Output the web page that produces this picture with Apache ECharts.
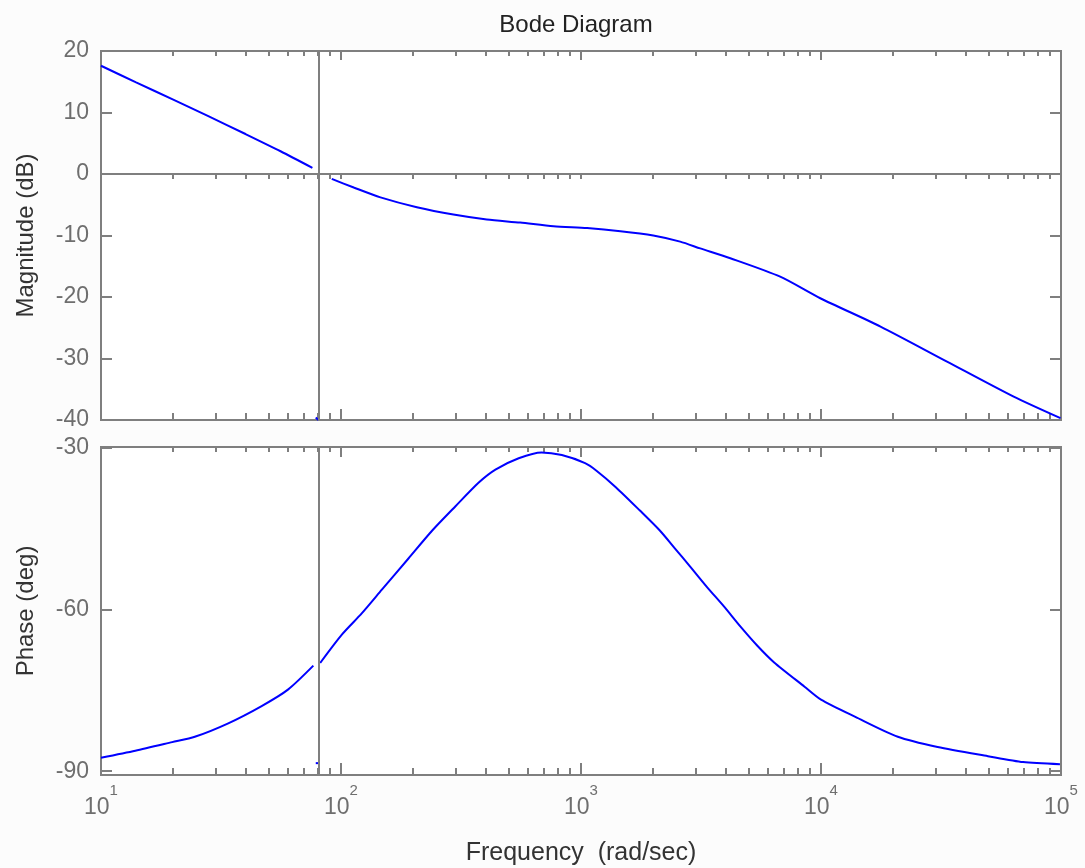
<!DOCTYPE html>
<html>
<head>
<meta charset="utf-8">
<title>Bode Diagram</title>
<script src="https://cdn.jsdelivr.net/npm/echarts@6/dist/echarts.min.js"></script>
<style>
  html, body { margin: 0; padding: 0; background: #fcfcfc; }
  #chart { width: 1085px; height: 868px; }
</style>
</head>
<body>
<div id="chart"></div>
<script>
// magnitude, before the crossover line
const magFreqLow = [10, 14, 20, 28, 40, 56, 76];
const magDbLow = [17.6, 14.9, 12.1, 9.4, 6.5, 3.7, 1.0];
// magnitude, after the crossover line
const magFreqHigh = [91.5, 113, 146, 207, 294, 405, 558, 768, 1060, 1460, 2000, 2590, 3140, 4190, 6760, 9930, 17700, 33500, 63500, 99500];
const magDbHigh = [-0.8, -2.2, -3.8, -5.4, -6.6, -7.4, -7.9, -8.5, -8.8, -9.3, -10.0, -11.0, -12.1, -13.7, -16.7, -20.2, -24.8, -30.5, -36.2, -39.7];

// phase
const phaseFreqLow = [10, 13.9, 19.8, 24.6, 33.9, 46.7, 60.3, 76.7];
const phaseDegLow = [-87.5, -86.2, -84.6, -83.6, -81.1, -77.9, -74.8, -70.4];
const phaseFreqHigh = [81.9, 101, 122, 148, 191, 239, 300, 375, 440, 550, 685, 832, 1040, 1160, 1400, 1760, 2130, 2470, 2850, 3350, 3940, 4630, 5430, 6380, 8540, 10000, 13900, 20900, 30600, 49600, 69500, 99000];
const phaseDegHigh = [-69.9, -64.6, -60.7, -56.3, -50.5, -45.4, -40.8, -36.4, -34.0, -31.9, -30.8, -31.3, -32.8, -34.2, -37.3, -41.6, -45.3, -48.7, -52.0, -55.8, -59.4, -63.2, -66.7, -69.8, -74.3, -76.7, -79.9, -83.6, -85.5, -87.2, -88.3, -88.7];

// little blue stubs at the foot of the crossover line
const stubFreq = [78.5, 80.5];
const magStub = [-39.6, -40];
const phaseStub = [-88.5, -88.5];

const crossFreq = 80.5;

// ticks
const majorFreq = [10, 100, 1000, 10000, 100000];
const minorMult = [2, 3, 4, 5, 6, 7, 8, 9];
const magTicks = [-40, -30, -20, -10, 0, 10, 20];
const phaseTicks = [-90, -60, -30];

const minorFreq = [];
majorFreq.slice(0, -1).forEach(d => minorMult.forEach(m => minorFreq.push(d * m)));
const allFreq = majorFreq.concat(minorFreq);

const pairs = (xs, ys) => xs.map((x, i) => [x, ys[i]]);

const gray = '#7f7f7f';
const labelGray = '#6e6e6e';
const font = 'Liberation Sans, Arial, sans-serif';

function xAx(gridIndex, position, values, len, extra) {
  return Object.assign({
    type: 'log', logBase: 10, gridIndex: gridIndex, position: position,
    min: 10, max: 100000,
    axisLine: { show: false, onZero: false },
    axisTick: { show: true, inside: true, length: len, customValues: values,
      lineStyle: { color: gray, width: 2 } },
    axisLabel: { show: false },
    splitLine: { show: false }
  }, extra || {});
}

function yAx(gridIndex, position, min, max, values, len, extra) {
  return Object.assign({
    type: 'value', gridIndex: gridIndex, position: position,
    min: min, max: max,
    axisLine: { show: false, onZero: false },
    axisTick: { show: true, inside: true, length: len, customValues: values,
      lineStyle: { color: gray, width: 2 } },
    axisLabel: { show: false },
    splitLine: { show: false }
  }, extra || {});
}

const yLabel = (values) => ({
  show: true, customValues: values, margin: 12,
  color: labelGray, fontSize: 23, fontFamily: font
});

const curve = (xi, yi, xs, ys) => ({
  type: 'line', xAxisIndex: xi, yAxisIndex: yi,
  data: pairs(xs, ys),
  showSymbol: false, smooth: 0.25,
  lineStyle: { color: '#0000ff', width: 2 }
});

const crossLine = {
  silent: true, symbol: 'none', label: { show: false },
  lineStyle: { color: gray, width: 2, type: 'solid' },
  data: [{ xAxis: crossFreq }]
};

const chart = echarts.init(document.getElementById('chart'));

const option = {
  backgroundColor: '#fcfcfc',
  animation: false,
  title: {
    text: 'Bode Diagram',
    left: 571, textAlign: 'center', top: 8,
    textStyle: { fontSize: 24, fontWeight: 'normal', color: '#222', fontFamily: font }
  },
  grid: [
    { left: 101, top: 51, width: 960, height: 369, show: true,
      backgroundColor: '#fff', borderColor: gray, borderWidth: 2 },
    { left: 101, top: 447, width: 960, height: 328, show: true,
      backgroundColor: '#fff', borderColor: gray, borderWidth: 2 }
  ],
  xAxis: [
    // magnitude panel
    xAx(0, 'bottom', majorFreq, 11),
    xAx(0, 'bottom', minorFreq, 7),
    xAx(0, 'top', majorFreq, 9),
    xAx(0, 'top', minorFreq, 5),
    xAx(0, 'top', allFreq, 5, {
      axisLine: { show: true, onZero: true, lineStyle: { color: gray, width: 2 } }
    }),
    // phase panel
    xAx(1, 'bottom', majorFreq, 12, {
      axisLabel: {
        show: true, customValues: majorFreq, margin: 8,
        formatter: v => '{b|10}{s|' + Math.round(Math.log10(v)) + '}',
        rich: {
          b: { fontSize: 23, color: labelGray, fontFamily: font, lineHeight: 36, verticalAlign: 'bottom' },
          s: { fontSize: 15, color: labelGray, fontFamily: font, verticalAlign: 'top' }
        }
      },
      name: 'Frequency  (rad/sec)', nameLocation: 'middle', nameGap: 66,
      nameTextStyle: { fontSize: 25, color: '#333', fontFamily: font }
    }),
    xAx(1, 'bottom', minorFreq, 7),
    xAx(1, 'top', majorFreq, 10),
    xAx(1, 'top', minorFreq, 5)
  ],
  yAxis: [
    yAx(0, 'left', -40, 20, magTicks, 11, {
      axisLabel: yLabel(magTicks),
      name: 'Magnitude (dB)', nameLocation: 'middle', nameGap: 63,
      nameTextStyle: { fontSize: 24, color: '#333', fontFamily: font }
    }),
    yAx(0, 'right', -40, 20, magTicks, 11),
    yAx(1, 'left', -90.7, -29.8, phaseTicks, 11, {
      axisLabel: yLabel(phaseTicks),
      name: 'Phase (deg)', nameLocation: 'middle', nameGap: 63,
      nameTextStyle: { fontSize: 24, color: '#333', fontFamily: font }
    }),
    yAx(1, 'right', -90.7, -29.8, phaseTicks, 11)
  ],
  series: [
    Object.assign(curve(0, 0, magFreqLow, magDbLow), { markLine: crossLine }),
    curve(0, 0, magFreqHigh, magDbHigh),
    curve(0, 0, stubFreq, magStub),
    Object.assign(curve(5, 2, phaseFreqLow, phaseDegLow), { markLine: crossLine }),
    curve(5, 2, phaseFreqHigh, phaseDegHigh),
    curve(5, 2, stubFreq, phaseStub)
  ]
};

chart.setOption(option);
</script>
</body>
</html>
